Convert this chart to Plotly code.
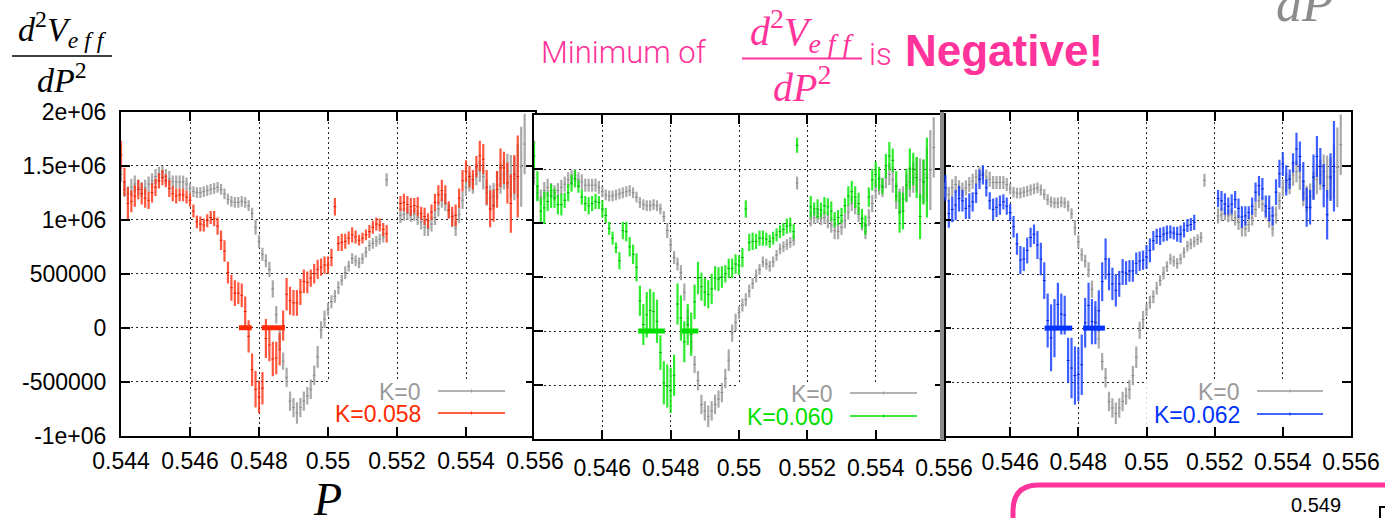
import plotly.graph_objects as go

W, H = 1385, 518


def fx(px):
    return px / W


def fy(py):
    return 1 - py / H


SCALE = 1e6
# sampling positions of P (0.5440 ... 0.5557, step 1e-4)
P = [round(0.5440 + 0.0001 * i, 4) for i in range(118)]

# ---- K = 0 (same in all three panels), values in units of 1e6 ----
K0_V = [1.42, 1.28, 1.24, 1.30, 1.33, 1.30, 1.28, 1.30, 1.33, 1.36,
        1.40, 1.42, 1.44, 1.40, 1.38, 1.35, 1.35, 1.35, 1.35, 1.33,
        1.29, 1.26, 1.25, 1.25, 1.26, 1.27, 1.28, 1.29, 1.30, 1.28,
        1.24, 1.19, 1.17, 1.16, 1.16, 1.17, 1.16, 1.13, 1.06, 0.93,
        0.80, 0.68, 0.62, 0.54, 0.36, 0.12, -0.10, -0.31, -0.46, -0.68,
        -0.74, -0.79, -0.74, -0.68, -0.63, -0.57, -0.44, -0.27, -0.02, 0.08,
        0.17, 0.24, 0.29, 0.37, 0.44, 0.51, 0.57, 0.64, 0.62, 0.60,
        0.64, 0.70, 0.76, 0.78, 0.80, 0.82, 0.84, 1.37, None, None,
        None, 1.04, 1.05, 1.06, 1.04, 1.05, 1.02, 0.98, 0.93, 0.92,
        0.96, 1.02, 1.10, 1.18, 1.15, 1.08, 1.00, 0.92, 1.05, 1.18,
        1.30, 1.35, 1.33, 1.42, 1.45, 1.40, 1.25, 1.20, 1.22, 1.32,
        1.38, 1.42, 1.45, 1.40, 1.38, 1.45, 1.49, 1.70]
K0_E = [0.07, 0.07, 0.07, 0.08, 0.08, 0.07, 0.07, 0.07, 0.07, 0.07,
        0.07, 0.07, 0.06, 0.07, 0.07, 0.06, 0.06, 0.06, 0.06, 0.06,
        0.05, 0.05, 0.05, 0.05, 0.05, 0.05, 0.05, 0.05, 0.05, 0.05,
        0.05, 0.05, 0.05, 0.05, 0.05, 0.05, 0.05, 0.05, 0.05, 0.07,
        0.06, 0.06, 0.06, 0.07, 0.08, 0.08, 0.09, 0.08, 0.09, 0.09,
        0.09, 0.10, 0.09, 0.09, 0.08, 0.09, 0.09, 0.10, 0.08, 0.08,
        0.06, 0.06, 0.06, 0.06, 0.05, 0.06, 0.05, 0.05, 0.05, 0.05,
        0.05, 0.05, 0.05, 0.05, 0.05, 0.05, 0.05, 0.06, 0, 0,
        0, 0.07, 0.06, 0.06, 0.06, 0.06, 0.07, 0.07, 0.08, 0.07,
        0.07, 0.07, 0.07, 0.07, 0.07, 0.07, 0.07, 0.07, 0.08, 0.08,
        0.08, 0.09, 0.09, 0.10, 0.10, 0.12, 0.12, 0.12, 0.12, 0.13,
        0.14, 0.14, 0.16, 0.20, 0.20, 0.25, 0.37, 0.28]

# ---- K = 0.058 ----
K058_V = [1.60, 1.35, 1.15, 1.17, 1.22, 1.28, 1.24, 1.20, 1.18, 1.25,
          1.30, 1.36, 1.39, 1.36, 1.29, 1.24, 1.22, 1.23, 1.23, 1.21,
          1.18, 1.08, 0.98, 0.96, 0.95, 0.99, 1.02, 1.01, 0.94, 0.81,
          0.71, 0.51, 0.37, 0.32, 0.32, 0.30, 0.15, -0.08, -0.39, -0.57,
          -0.64, -0.56, -0.10, -0.16, -0.29, -0.28, -0.20, 0.02, 0.31, 0.25,
          0.23, 0.23, 0.33, 0.43, 0.42, 0.46, 0.50, 0.54, 0.56, 0.58,
          0.58, 0.65, 1.12, 0.78, 0.79, 0.80, 0.83, 0.86, 0.84, 0.81,
          0.83, 0.86, 0.89, 0.93, 0.96, 0.95, 0.91, 0.87, None, None,
          None, 1.15, 1.16, 1.14, 1.12, 1.13, 1.12, 1.06, 1.03, 0.99,
          1.07, 1.16, 1.23, 1.27, 1.23, 1.09, 1.03, 1.04, 1.20, 1.36,
          1.45, 1.40, 1.37, 1.49, 1.59, 1.56, 1.30, 1.10, 1.13, 1.28,
          1.48, 1.48, 1.34, 1.15, 1.42, 1.40, None, None]
K058_E = [0.13, 0.13, 0.15, 0.10, 0.10, 0.09, 0.10, 0.09, 0.08, 0.09,
          0.08, 0.07, 0.07, 0.06, 0.08, 0.07, 0.07, 0.06, 0.06, 0.06,
          0.06, 0.06, 0.06, 0.07, 0.06, 0.06, 0.06, 0.07, 0.08, 0.09,
          0.10, 0.10, 0.12, 0.12, 0.10, 0.11, 0.14, 0.15, 0.15, 0.17,
          0.15, 0.15, 0.18, 0.15, 0.16, 0.15, 0.15, 0.14, 0.15, 0.13,
          0.12, 0.12, 0.12, 0.11, 0.10, 0.08, 0.09, 0.09, 0.08, 0.08,
          0.08, 0.08, 0.08, 0.07, 0.08, 0.07, 0.06, 0.07, 0.06, 0.05,
          0.05, 0.05, 0.06, 0.06, 0.06, 0.06, 0.06, 0.08, 0, 0,
          0, 0.07, 0.08, 0.08, 0.08, 0.07, 0.09, 0.06, 0.08, 0.07,
          0.07, 0.08, 0.09, 0.10, 0.09, 0.08, 0.09, 0.10, 0.09, 0.10,
          0.10, 0.10, 0.09, 0.10, 0.14, 0.14, 0.16, 0.17, 0.15, 0.17,
          0.18, 0.15, 0.19, 0.27, 0.18, 0.38, 0, 0]

# ---- K = 0.060 ----
K060_V = [1.62, 1.34, 1.11, 1.14, 1.20, 1.25, 1.23, 1.17, 1.17, 1.21,
          1.28, 1.37, 1.41, 1.34, 1.24, 1.18, 1.16, 1.18, 1.20, 1.19,
          1.13, 1.07, 0.95, 0.86, 0.77, 0.65, 0.93, 0.92, 0.78, 0.71,
          0.59, 0.28, 0.06, 0.15, 0.19, 0.18, 0.09, -0.20, -0.48, -0.51,
          -0.55, -0.41, 0.25, 0.12, -0.10, 0.06, -0.03, 0.27, 0.49, 0.41,
          0.36, 0.34, 0.39, 0.49, 0.48, 0.50, 0.53, 0.58, 0.58, 0.62,
          0.61, 0.68, 1.13, 0.82, 0.83, 0.83, 0.86, 0.86, 0.85, 0.83,
          0.86, 0.89, 0.92, 0.94, 0.97, 0.98, 0.92, 1.72, None, None,
          None, 1.15, 1.13, 1.13, 1.12, 1.16, 1.15, 1.11, 1.03, 1.05,
          1.07, 1.16, 1.25, 1.29, 1.24, 1.18, 1.04, 0.98, 1.24, 1.40,
          1.45, 1.41, 1.34, 1.53, 1.62, 1.58, 1.34, 1.10, 1.11, 1.35,
          1.50, 1.50, 1.42, 1.06, 1.38, 1.42, None, None]
K060_E = [0.14, 0.14, 0.12, 0.15, 0.09, 0.11, 0.09, 0.09, 0.10, 0.07,
          0.08, 0.08, 0.08, 0.06, 0.07, 0.07, 0.08, 0.07, 0.07, 0.06,
          0.08, 0.07, 0.06, 0.06, 0.05, 0.08, 0.08, 0.09, 0.09, 0.09,
          0.13, 0.14, 0.19, 0.21, 0.20, 0.18, 0.20, 0.16, 0.20, 0.20,
          0.21, 0.19, 0.19, 0.21, 0.19, 0.19, 0.20, 0.16, 0.15, 0.13,
          0.13, 0.13, 0.14, 0.11, 0.11, 0.10, 0.08, 0.09, 0.09, 0.09,
          0.09, 0.09, 0.08, 0.08, 0.08, 0.07, 0.07, 0.07, 0.06, 0.06,
          0.06, 0.06, 0.06, 0.06, 0.07, 0.07, 0.07, 0.07, 0, 0,
          0, 0.10, 0.06, 0.09, 0.07, 0.08, 0.08, 0.09, 0.07, 0.07,
          0.07, 0.07, 0.09, 0.10, 0.10, 0.10, 0.09, 0.09, 0.09, 0.10,
          0.12, 0.11, 0.07, 0.11, 0.13, 0.11, 0.14, 0.19, 0.17, 0.15,
          0.19, 0.15, 0.19, 0.21, 0.21, 0.37, 0, 0]

# ---- K = 0.062 ----
K062_V = [1.63, 1.30, 1.06, 1.10, 1.14, 1.20, 1.18, 1.11, 1.13, 1.17,
          1.25, 1.38, 1.42, 1.30, 1.18, 1.10, 1.12, 1.14, 1.17, 1.13,
          1.07, 0.94, 0.78, 0.63, 0.64, 0.72, 0.84, 0.87, 0.77, 0.64,
          0.44, 0.07, -0.09, 0.00, 0.22, 0.13, 0.12, -0.30, -0.37, -0.44,
          -0.43, -0.34, 0.05, 0.21, 0.06, 0.05, 0.16, 0.43, 0.64, 0.50,
          0.41, 0.35, 0.41, 0.52, 0.51, 0.53, 0.53, 0.60, 0.62, 0.63,
          0.66, 0.72, 0.81, 0.85, 0.85, 0.87, 0.88, 0.89, 0.88, 0.87,
          0.87, 0.91, 0.95, 0.96, 0.98, None, None, None, None, None,
          None, 1.20, 1.18, 1.15, 1.13, 1.15, 1.19, 1.11, 1.03, 1.04,
          1.07, 1.13, 1.26, 1.32, 1.29, 1.13, 1.11, 1.04, 1.26, 1.43,
          1.52, 1.37, 1.38, 1.53, 1.66, 1.59, 1.36, 1.12, 1.12, 1.40,
          1.59, 1.50, 1.32, 1.05, 1.40, 1.50, None, None]
K062_E = [0.12, 0.12, 0.13, 0.12, 0.14, 0.12, 0.10, 0.10, 0.12, 0.09,
          0.09, 0.09, 0.09, 0.08, 0.08, 0.10, 0.09, 0.09, 0.07, 0.08,
          0.08, 0.10, 0.10, 0.13, 0.11, 0.12, 0.09, 0.09, 0.13, 0.15,
          0.17, 0.25, 0.31, 0.27, 0.20, 0.19, 0.18, 0.21, 0.28, 0.27,
          0.25, 0.28, 0.23, 0.21, 0.21, 0.20, 0.19, 0.18, 0.19, 0.15,
          0.15, 0.15, 0.12, 0.12, 0.11, 0.10, 0.10, 0.10, 0.09, 0.09,
          0.11, 0.11, 0.09, 0.07, 0.08, 0.07, 0.07, 0.06, 0.06, 0.07,
          0.08, 0.07, 0.06, 0.06, 0.07, 0, 0, 0, 0, 0,
          0, 0.08, 0.09, 0.10, 0.08, 0.09, 0.08, 0.09, 0.10, 0.09,
          0.06, 0.08, 0.09, 0.09, 0.10, 0.10, 0.12, 0.09, 0.12, 0.13,
          0.11, 0.14, 0.09, 0.09, 0.15, 0.14, 0.18, 0.18, 0.16, 0.21,
          0.19, 0.17, 0.20, 0.23, 0.22, 0.42, 0, 0]

# P-intervals where the curve crosses zero (thick bars on the zero line)
ZERO_058 = [(0.54742, 0.54779), (0.54808, 0.54875)]
ZERO_060 = [(0.54705, 0.54783), (0.54832, 0.54881)]
ZERO_062 = [(0.54701, 0.54782), (0.54814, 0.54878)]

X_TICKS = [0.544, 0.546, 0.548, 0.550, 0.552, 0.554, 0.556]
X_LABELS = ["0.544", "0.546", "0.548", "0.55", "0.552", "0.554", "0.556"]
Y_TICKS = [-1e6, -5e5, 0, 5e5, 1e6, 1.5e6, 2e6]
Y_LABELS = ["-1e+06", "-500000", "0", "500000", "1e+06", "1.5e+06", "2e+06"]

PINK = "#ff3399"
GRAY = "rgba(160,160,160,0.9)"
GRAY_TXT = "#9a9a9a"
SANS = "Liberation Sans, Arial, sans-serif"
SERIF = "Liberation Serif, Times New Roman, serif"

panels = [
    dict(label="K=0.058", v=K058_V, e=K058_E, zero=ZERO_058,
         bar="rgba(255,50,20,0.82)", solid="#ff2a00", dark="#dd2200",
         px=(121, 535), py=(111.7, 435.7), first_label=True, standoff=4,
         leg_x=423, leg_y=(391, 413), line_x=(438, 505)),
    dict(label="K=0.060", v=K060_V, e=K060_E, zero=ZERO_060,
         bar="rgba(0,230,0,0.82)", solid="#00e000", dark="#00b000",
         px=(534, 944), py=(115, 439), first_label=False, standoff=7,
         leg_x=835, leg_y=(393, 416), line_x=(850, 917)),
    dict(label="K=0.062", v=K062_V, e=K062_E, zero=ZERO_062,
         bar="rgba(20,60,255,0.82)", solid="#0033ff", dark="#0022cc",
         px=(942, 1351), py=(112.3, 436), first_label=False, standoff=4,
         leg_x=1242, leg_y=(391, 414), line_x=(1257, 1323)),
]

fig = go.Figure()
shapes = []
annotations = []


def sc(lst):
    return [None if a is None else a * SCALE for a in lst]


def scerr(lst):
    return [0 if a is None else a * SCALE for a in lst]


layout_axes = {}
for k, pn in enumerate(panels, start=1):
    xa = "x" if k == 1 else f"x{k}"
    ya = "y" if k == 1 else f"y{k}"
    # K=0 reference curve
    fig.add_trace(go.Scatter(
        x=P, y=sc(K0_V), mode="markers", xaxis=xa, yaxis=ya, showlegend=False,
        marker=dict(symbol="line-ew", size=2, color="#8a8a8a",
                    line=dict(width=1, color="#8a8a8a")),
        error_y=dict(type="data", array=scerr(K0_E), visible=True,
                     thickness=2.2, width=0, color=GRAY),
        hoverinfo="skip"))
    # coloured curve
    fig.add_trace(go.Scatter(
        x=P, y=sc(pn["v"]), mode="markers", xaxis=xa, yaxis=ya, showlegend=False,
        marker=dict(symbol="line-ew", size=2, color=pn["dark"],
                    line=dict(width=1, color=pn["dark"])),
        error_y=dict(type="data", array=scerr(pn["e"]), visible=True,
                     thickness=2.2, width=0, color=pn["bar"]),
        hoverinfo="skip"))
    # thick bars on the zero line
    zx, zy = [], []
    for a, b in pn["zero"]:
        zx += [a, b, None]
        zy += [0, 0, None]
    fig.add_trace(go.Scatter(
        x=zx, y=zy, mode="lines", xaxis=xa, yaxis=ya, showlegend=False,
        line=dict(color=pn["solid"], width=5), hoverinfo="skip"))

    xkey = "xaxis" if k == 1 else f"xaxis{k}"
    ykey = "yaxis" if k == 1 else f"yaxis{k}"
    xlabels = X_LABELS if pn["first_label"] else [""] + X_LABELS[1:]
    common = dict(showgrid=True, gridcolor="#222", griddash="2px,3px", gridwidth=1,
                  ticks="inside", ticklen=9, tickwidth=1.5, tickcolor="black",
                  showline=True, linecolor="black", linewidth=2,
                  mirror="allticks", zeroline=False, automargin=False,
                  tickfont=dict(family=SANS, size=23, color="black"))
    layout_axes[xkey] = dict(common, domain=[fx(pn["px"][0]), fx(pn["px"][1])],
                             range=[0.544, 0.556], tickvals=X_TICKS,
                             ticktext=xlabels, anchor=ya,
                             ticklabelstandoff=pn["standoff"])
    layout_axes[ykey] = dict(common, domain=[fy(pn["py"][1]), fy(pn["py"][0])],
                             range=[-1e6, 2e6], tickvals=Y_TICKS,
                             ticktext=Y_LABELS, anchor=xa,
                             showticklabels=(k == 1), ticklabelstandoff=8)
    # white key area (hides the grid behind the legend)
    shapes.append(dict(type="rect", xref=xa, yref=ya, x0=0.54999, x1=0.5559,
                       y0=-0.99e6, y1=-0.485e6, fillcolor="white",
                       line=dict(width=0), layer="between"))
    # legend text + samples
    for j, (txt, col, lcol) in enumerate([("K=0", GRAY_TXT, "#999999"),
                                          (pn["label"], pn["solid"], pn["solid"])]):
        yy = pn["leg_y"][j]
        annotations.append(dict(xref="paper", yref="paper", x=fx(pn["leg_x"]),
                                y=fy(yy), xanchor="right", yanchor="middle",
                                text=txt, showarrow=False, height=21,
                                font=dict(family=SANS, size=23, color=col)))
        shapes.append(dict(type="line", xref="paper", yref="paper",
                           x0=fx(pn["line_x"][0]), x1=fx(pn["line_x"][1]),
                           y0=fy(yy), y1=fy(yy), line=dict(color=lcol, width=1.5)))
        xm = (pn["line_x"][0] + pn["line_x"][1]) / 2
        shapes.append(dict(type="line", xref="paper", yref="paper",
                           x0=fx(xm), x1=fx(xm), y0=fy(yy - 1.5), y1=fy(yy + 1.5),
                           line=dict(color=lcol, width=1)))

# grey edge between panels 2 and 3
shapes.append(dict(type="rect", xref="paper", yref="paper", x0=fx(940), x1=fx(944),
                   y0=fy(440), y1=fy(112), fillcolor="#8a8a8a", line=dict(width=0)))

# ---- texts around the plots ----
# y-axis label (fraction) top-left
annotations.append(dict(xref="paper", yref="paper", x=fx(62), y=fy(30),
                        xanchor="center", yanchor="middle", showarrow=False,
                        text="<i>d</i><sup>2</sup><i>V</i><sub><i>e f f</i></sub>",
                        font=dict(family=SERIF, size=34, color="black")))
shapes.append(dict(type="line", xref="paper", yref="paper", x0=fx(12), x1=fx(112),
                   y0=fy(56), y1=fy(56), line=dict(color="black", width=1.5)))
annotations.append(dict(xref="paper", yref="paper", x=fx(62), y=fy(78),
                        xanchor="center", yanchor="middle", showarrow=False,
                        text="<i>dP</i><sup>2</sup>",
                        font=dict(family=SERIF, size=34, color="black")))
# x-axis label
annotations.append(dict(xref="paper", yref="paper", x=fx(327), y=fy(499),
                        xanchor="center", yanchor="middle", showarrow=False,
                        text="<i>P</i>",
                        font=dict(family=SERIF, size=46, color="black")))
# pink headline
annotations.append(dict(xref="paper", yref="paper", x=fx(539), y=fy(52),
                        xanchor="left", yanchor="middle", showarrow=False,
                        text="Minimum of",
                        font=dict(family="Roboto, sans-serif", size=31, color=PINK,
                                  weight=300)))
annotations.append(dict(xref="paper", yref="paper", x=fx(802), y=fy(31),
                        xanchor="center", yanchor="middle", showarrow=False,
                        text="<i>d</i><sup>2</sup><i>V</i><sub><i>e f f</i></sub>",
                        font=dict(family=SERIF, size=40, color=PINK)))
shapes.append(dict(type="line", xref="paper", yref="paper", x0=fx(742), x1=fx(862),
                   y0=fy(58.5), y1=fy(58.5), line=dict(color=PINK, width=2)))
annotations.append(dict(xref="paper", yref="paper", x=fx(802), y=fy(84),
                        xanchor="center", yanchor="middle", showarrow=False,
                        text="<i>dP</i><sup>2</sup>",
                        font=dict(family=SERIF, size=40, color=PINK)))
annotations.append(dict(xref="paper", yref="paper", x=fx(867), y=fy(54),
                        xanchor="left", yanchor="middle", showarrow=False,
                        text="is",
                        font=dict(family="Roboto, sans-serif", size=31, color=PINK,
                                  weight=300)))
annotations.append(dict(xref="paper", yref="paper", x=fx(903), y=fy(50),
                        xanchor="left", yanchor="middle", showarrow=False,
                        text="<b>Negative!</b>",
                        font=dict(family=SANS, size=44, color=PINK)))
# partly visible grey fraction top-right (only its lower part is on the page)
annotations.append(dict(xref="paper", yref="paper", x=fx(1274), y=fy(34),
                        xanchor="left", yanchor="bottom", showarrow=False,
                        text="<i>dP</i><sup>2</sup>",
                        font=dict(family=SERIF, size=52, color="#8c8c8c")))
# pink rounded box bottom right
x0p, y0p, r = 1013, 485, 26
path = (f"M {fx(x0p)},{fy(540)} L {fx(x0p)},{fy(y0p + r)} "
        f"Q {fx(x0p)},{fy(y0p)} {fx(x0p + r)},{fy(y0p)} L {fx(1420)},{fy(y0p)}")
shapes.append(dict(type="path", xref="paper", yref="paper", path=path,
                   line=dict(color=PINK, width=5)))
annotations.append(dict(xref="paper", yref="paper", x=fx(1316), y=fy(505),
                        xanchor="center", yanchor="middle", showarrow=False,
                        text="0.549",
                        font=dict(family=SANS, size=20, color="black")))
shapes.append(dict(type="path", xref="paper", yref="paper",
                   path=f"M {fx(1380)},{fy(520)} L {fx(1380)},{fy(507)} L {fx(1386)},{fy(507)}",
                   line=dict(color="black", width=2)))

fig.update_layout(
    width=W, height=H, autosize=False,
    margin=dict(l=0, r=0, t=0, b=0, autoexpand=False),
    paper_bgcolor="white", plot_bgcolor="white",
    showlegend=False,
    shapes=shapes, annotations=annotations,
    **layout_axes,
)

fig.write_html("out.html")
